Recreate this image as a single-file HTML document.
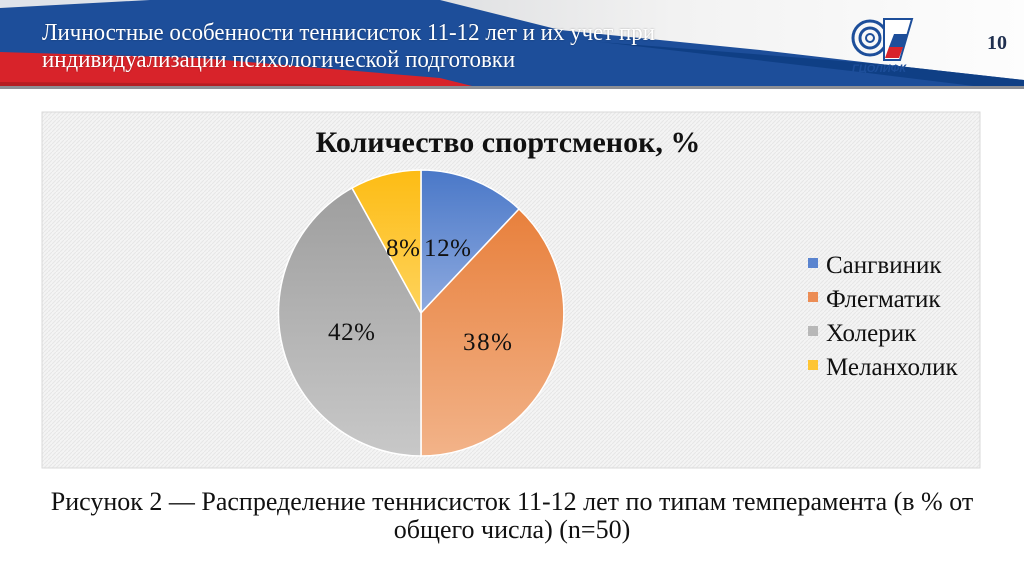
<!DOCTYPE html>
<html><head><meta charset="utf-8"><style>
body{margin:0;width:1024px;height:574px;background:#fff;overflow:hidden;position:relative;font-family:"Liberation Serif",serif}
.t{position:absolute;color:#fff;font-size:24px;line-height:27px;left:42px;top:20px;white-space:nowrap;transform-origin:0 0;transform:scaleX(0.955);text-shadow:0 0 2px rgba(0,0,0,.3)}
</style></head><body>
<svg width="1024" height="574" style="position:absolute;left:0;top:0">
<defs>
<linearGradient id="gr" x1="0" y1="0" x2="1" y2="0"><stop offset="0" stop-color="#c8cace"/><stop offset="0.6" stop-color="#f2f2f2"/><stop offset="1" stop-color="#fdfdfd"/></linearGradient>
<linearGradient id="b" x1="0" y1="0" x2="0" y2="1"><stop offset="0" stop-color="#4a78c8"/><stop offset="1" stop-color="#8eaadf"/></linearGradient>
<linearGradient id="o" x1="0" y1="0" x2="0" y2="1"><stop offset="0" stop-color="#e8803c"/><stop offset="1" stop-color="#f2b389"/></linearGradient>
<linearGradient id="g" x1="0" y1="0" x2="0" y2="1"><stop offset="0" stop-color="#9e9e9e"/><stop offset="1" stop-color="#c8c8c8"/></linearGradient>
<linearGradient id="y" x1="0" y1="0" x2="0" y2="1"><stop offset="0" stop-color="#fdbc14"/><stop offset="1" stop-color="#fed35c"/></linearGradient>
<pattern id="p" width="4" height="4" patternUnits="userSpaceOnUse"><rect width="4" height="4" fill="#f4f4f4"/><path d="M0 4L4 0" stroke="#e6e6e6" stroke-width="1"/></pattern>
</defs>
<rect x="0" y="0" width="1024" height="88" fill="#1d4e9a"/>
<polygon points="0,0 150,0 0,8" fill="#dfe3ea"/>
<polygon points="150,0 1024,0 1024,80 880,64 760,50 560,30 440,0" fill="url(#gr)"/>
<polygon points="0,52 200,58 440,78 480,88 0,88" fill="#d8232a"/>
<polygon points="0,82 300,84 480,88 0,88" fill="#b51d22"/>
<polygon points="600,42 880,64 1024,80 1024,88 990,88 860,72" fill="#0f3f85"/>
<rect x="0" y="86" width="1024" height="3" fill="#8d8f95"/>
<rect x="42" y="112" width="938" height="356" fill="url(#p)" stroke="#d9d9d9"/>
<g stroke="#fff" stroke-width="1.5">
<path d="M421,313 L421,170 A143,143 0 0 1 519,209 Z" fill="url(#b)"/>
<path d="M421,313 L519,209 A143,143 0 0 1 421,456 Z" fill="url(#o)"/>
<path d="M421,313 L421,456 A143,143 0 0 1 352,188 Z" fill="url(#g)"/>
<path d="M421,313 L352,188 A143,143 0 0 1 421,170 Z" fill="url(#y)"/>
</g>
<g font-family="Liberation Serif" font-size="25" fill="#111">
<text x="386" y="256" textLength="34">8%</text><text x="424" y="256" textLength="47">12%</text>
<text x="328" y="340" textLength="47">42%</text><text x="463" y="350" textLength="49">38%</text>
</g>
<text x="508" y="152" text-anchor="middle" font-family="Liberation Serif" font-size="30" font-weight="bold" fill="#111">Количество спортсменок, %</text>
<g font-family="Liberation Serif" font-size="25" fill="#111">
<rect x="808" y="258" width="10" height="10" fill="#5a84cf"/><text x="826" y="273">Сангвиник</text>
<rect x="808" y="292" width="10" height="10" fill="#ec8d55"/><text x="826" y="307">Флегматик</text>
<rect x="808" y="326" width="10" height="10" fill="#b8b8b8"/><text x="826" y="341">Холерик</text>
<rect x="808" y="360" width="10" height="10" fill="#fec534"/><text x="826" y="375">Меланхолик</text>
</g>
<g transform="translate(852,16)">
<circle cx="18" cy="22" r="17" fill="none" stroke="#1d4e9a" stroke-width="3"/>
<circle cx="18" cy="22" r="10" fill="none" stroke="#1d4e9a" stroke-width="3"/>
<circle cx="18" cy="22" r="4" fill="none" stroke="#1d4e9a" stroke-width="2"/>
<polygon points="32,3 60,3 48,44 32,44" fill="#fff" stroke="#1d4e9a" stroke-width="2"/>
<polygon points="42,18 56,18 51,31 37,31" fill="#1d4e9a"/>
<polygon points="37,31 51,31 47,42 33,42" fill="#d8232a"/>
<text x="0" y="56" font-family="Liberation Sans" font-size="11" font-weight="bold" font-style="italic" fill="#1d4e9a">ГЦОЛИФК</text>
</g>
<text x="987" y="49" font-family="Liberation Serif" font-size="20" font-weight="bold" fill="#1f2f4f">10</text>
</svg>
<div class="t">Личностные особенности теннисисток 11-12 лет и их учет при<br>индивидуализации психологической подготовки</div>
<div style="position:absolute;left:0;width:1024px;top:488px;text-align:center;font-size:26px;line-height:28px;color:#111;white-space:nowrap">Рисунок 2 — Распределение теннисисток 11-12 лет по типам темперамента (в % от<br>общего числа) (n=50)</div>
</body></html>
